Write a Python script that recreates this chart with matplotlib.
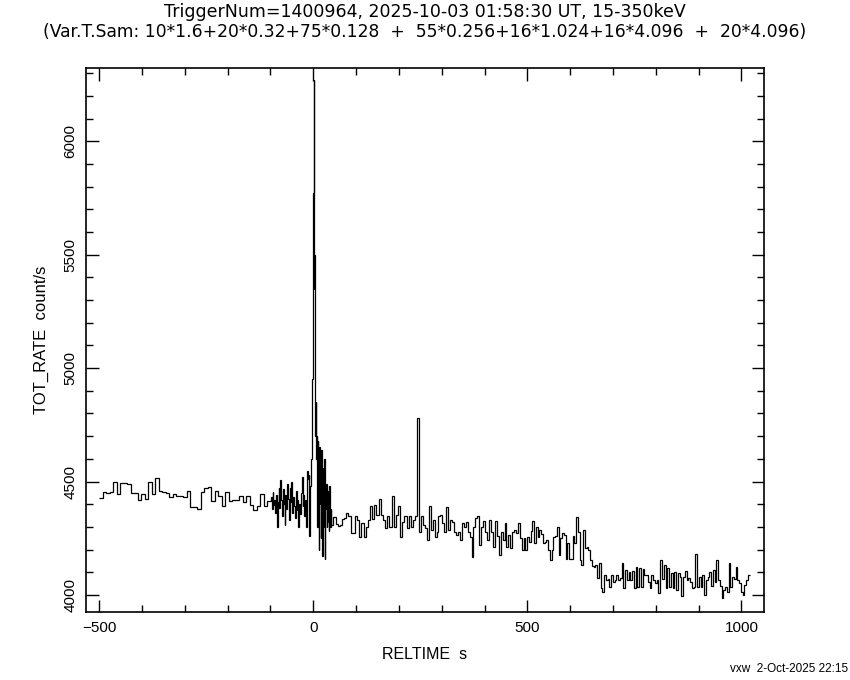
"""Swift/BAT-style light curve: TOT_RATE vs RELTIME, variable time sampling."""
import numpy as np
import matplotlib; matplotlib.use("Agg")
import matplotlib.pyplot as plt
from matplotlib.ticker import MultipleLocator

# --- data (count/s), segment by segment ---
# each segment: start time, stop time (s), rates in equal bins
pre_span = (-500, -99)
pre_rate = [4428, 4455, 4450, 4455, 4498, 4443, 4492, 4495, 4490, 4450,
            4450, 4420, 4447, 4425, 4498, 4443, 4516, 4458, 4453, 4450,
            4432, 4445, 4435, 4435, 4432, 4458, 4386, 4386, 4380, 4455,
            4472, 4475, 4413, 4458, 4438, 4393, 4455, 4413, 4420, 4417,
            4435, 4408, 4438, 4398, 4375, 4393, 4443, 4390, 4413]

dense_span = (-99, -15)
dense_rate = [4430, 4380, 4455, 4395, 4420, 4360, 4440, 4300, 4410, 4470,
              4385, 4505, 4420, 4350, 4465, 4400, 4310, 4440, 4380, 4490,
              4425, 4330, 4470, 4410, 4500, 4360, 4430, 4390, 4340, 4460,
              4375, 4420, 4300, 4400, 4355, 4450, 4522, 4390, 4440, 4350,
              4420, 4300]

rise_span = (-15, -3)
rise_rate = [4545, 4510, 4530, 4260, 4480, 4600]

peak_span = (-3, 8)
peak_rate = [4620, 4750, 4950, 5350, 5100, 5500, 5770, 6268, 5600, 5690,
             5350, 5500, 5000, 5200, 4980, 5000, 4700, 4850, 4670, 4800,
             4600, 4700]

decay_span = (8, 42)
decay_rate = [4620, 4300, 4680, 4450, 4550, 4200, 4650, 4400, 4580, 4250,
              4500, 4640, 4350, 4170, 4560, 4420, 4480, 4300, 4600, 4158,
              4450, 4380, 4490, 4300, 4420, 4460, 4320, 4400, 4280, 4480,
              4350, 4420, 4300, 4380]

post_span = (42, 62)
post_rate = [4309, 4345, 4313, 4303]

midA_span = (62, 243)
midA_rate = [4309, 4334, 4338, 4360, 4349, 4272, 4275, 4346, 4331, 4257,
             4316, 4257, 4301, 4331, 4390, 4334, 4397, 4353, 4423, 4353,
             4331, 4294, 4346, 4301, 4434, 4301, 4353, 4393, 4257, 4323,
             4346, 4294, 4346, 4301, 4331, 4346]

spk_span = (243, 247)
spk_rate = [4779]

midB_span = (247, 483)
midB_rate = [4279, 4346, 4309, 4294, 4242, 4390, 4287, 4331, 4257, 4279,
             4346, 4353, 4316, 4279, 4387, 4287, 4331, 4323, 4279, 4264,
             4279, 4242, 4316, 4301, 4323, 4279, 4257, 4168, 4301, 4338,
             4349, 4220, 4301, 4328, 4279, 4242, 4331, 4279, 4213, 4328,
             4260, 4176, 4279, 4242, 4316, 4213, 4264, 4205, 4279, 4287,
             4275, 4316]

late_span = (483, 1019)
late_rate = [4250, 4199, 4250, 4199, 4254, 4235, 4284, 4328, 4231, 4299,
             4254, 4287, 4269, 4228, 4235, 4240, 4199, 4154, 4199, 4254,
             4260, 4301, 4176, 4250, 4272, 4265, 4157, 4228, 4157, 4157,
             4260, 4228, 4343, 4279, 4154, 4132, 4287, 4206, 4213, 4199,
             4154, 4128, 4125, 4132, 4074, 4140, 4029, 4015, 4088, 4066,
             4069, 4037, 4088, 4059, 4066, 4088, 4066, 4074, 4143, 4029,
             4110, 4066, 4103, 4066, 4106, 4029, 4125, 4034, 4118, 4034,
             4113, 4088, 4088, 4059, 4029, 4088, 4066, 4051, 4066, 4007,
             4154, 4069, 4132, 4029, 4118, 4037, 4096, 4029, 4103, 4022,
             4096, 4081, 3996, 4081, 4107, 4066, 4074, 4059, 4029, 4037,
             4181, 4037, 4081, 4037, 4088, 4000, 4066, 4081, 4103, 4040,
             4110, 4059, 4154, 4066, 4040, 3985, 4022, 4037, 4015, 4143,
             4037, 4081, 4069, 4122, 4066, 4051, 4015, 4000, 4044, 4066,
             4088]

segments = [(pre_span, pre_rate), (dense_span, dense_rate), (rise_span, rise_rate),
            (peak_span, peak_rate), (decay_span, decay_rate), (post_span, post_rate),
            (midA_span, midA_rate), (spk_span, spk_rate), (midB_span, midB_rate),
            (late_span, late_rate)]

edges, rates = [], []
for (t0, t1), r in segments:
    edges.extend(np.linspace(t0, t1, len(r) + 1)[:-1])
    rates.extend(r)
edges.append(segments[-1][0][1])

FONT = "Liberation Sans"
fig = plt.figure(figsize=(8.5, 6.8), dpi=100)
ax = fig.add_axes([0.1006, 0.1004, 0.7979, 0.8003])
ax.stairs(rates, edges, baseline=None, color="black", lw=0.9)

ax.set_xlim(-532, 1052)
ax.set_ylim(3926, 6325)
ax.xaxis.set_major_locator(MultipleLocator(500)); ax.xaxis.set_minor_locator(MultipleLocator(100))
ax.yaxis.set_major_locator(MultipleLocator(500)); ax.yaxis.set_minor_locator(MultipleLocator(100))
ax.tick_params(which="both", direction="in", top=True, right=True, width=1.0)
ax.tick_params(which="major", length=9)
ax.tick_params(which="minor", length=5)
ax.tick_params(axis="x", pad=7, labelsize=11)
ax.tick_params(axis="y", pad=6, labelsize=11)
for s in ax.spines.values(): s.set_linewidth(1.2)
for lb in ax.get_xticklabels() + ax.get_yticklabels(): lb.set_family(FONT)
for lb in ax.get_yticklabels(): lb.set_rotation(90); lb.set_va("center")
ax.xaxis.set_major_formatter(plt.FuncFormatter(lambda v, p: f"{v:.0f}".replace("-", "\u2212")))

ax.set_xlabel("RELTIME  s", family=FONT, fontsize=11.5, labelpad=8)
ax.set_ylabel("TOT_RATE  count/s", family=FONT, fontsize=12, labelpad=10)
fig.text(0.5, 1 - 12/680, "TriggerNum=1400964, 2025-10-03 01:58:30 UT, 15-350keV",
         ha="center", va="center", family="DejaVu Sans", fontsize=12.5)
fig.text(0.5, 1 - 32/680,
         "(Var.T.Sam: 10*1.6+20*0.32+75*0.128  +  55*0.256+16*1.024+16*4.096  +  20*4.096)",
         ha="center", va="center", family="DejaVu Sans", fontsize=12.35)
fig.text(848/850, 1 - 669/680, "vxw  2-Oct-2025 22:15", ha="right", va="center",
         family=FONT, fontsize=8.5)

fig.savefig("out.png", dpi=100)
